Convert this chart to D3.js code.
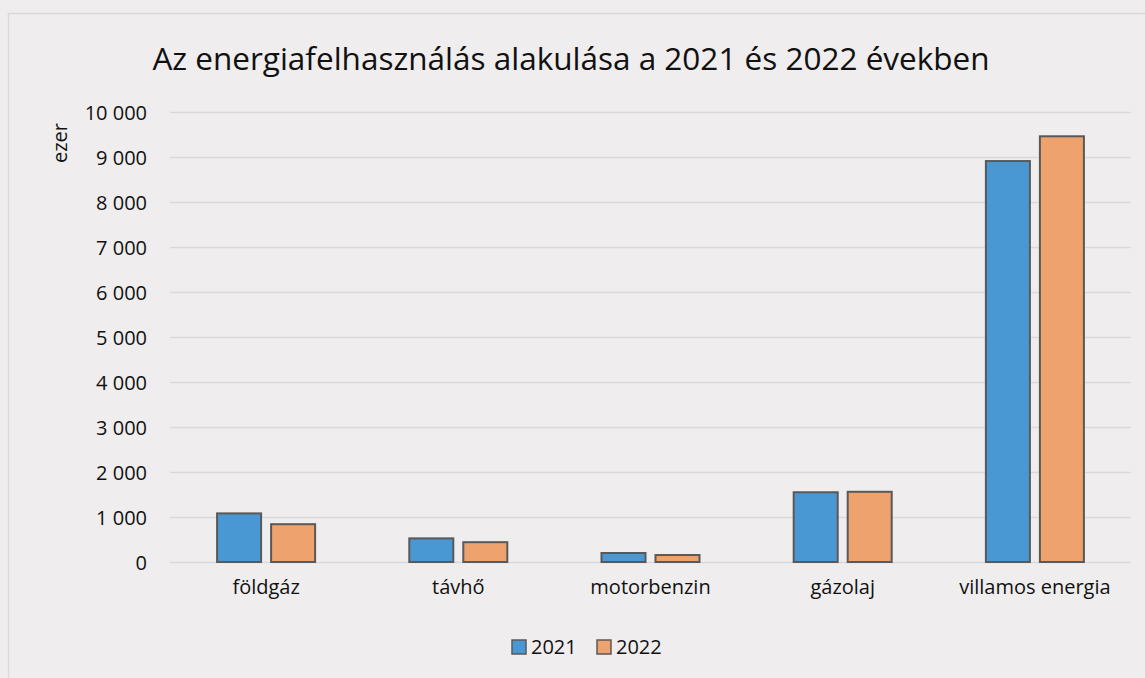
<!DOCTYPE html>
<html>
<head>
<meta charset="utf-8">
<script src="https://cdn.jsdelivr.net/npm/d3@7"></script>
<style>
  body { margin: 0; background: #efedee; }
  svg { display: block; font-family: "Open Sans", "Noto Sans", sans-serif; }
</style>
</head>
<body>
<div id="chart"></div>
<script>
// --- Data ---
const categories = ["földgáz", "távhő", "motorbenzin", "gázolaj", "villamos energia"];
const series = ["2021", "2022"];
const values2021 = [1080, 525, 200, 1550, 8910];
const values2022 = [840, 440, 155, 1560, 9460];
const yTicks = [0, 1000, 2000, 3000, 4000, 5000, 6000, 7000, 8000, 9000, 10000];
const seriesColors = ["#4a98d3", "#eea26e"];

// --- Layout ---
const width = 1145;
const height = 678;
const plot = { left: 170, right: 1131, top: 112, bottom: 562 };

const svg = d3.select("#chart").append("svg")
  .attr("width", width)
  .attr("height", height);

// chart frame
svg.append("rect")
  .attr("x", 8.5)
  .attr("y", 13.5)
  .attr("width", width + 20)
  .attr("height", height + 20)
  .attr("fill", "#efedee")
  .attr("stroke", "#d9d9d9")
  .attr("stroke-width", 1.5);

// --- Scales ---
const y = d3.scaleLinear()
  .domain([0, 10000])
  .range([plot.bottom, plot.top]);

const x0 = d3.scaleBand()
  .domain(categories)
  .range([plot.left, plot.right])
  .padding(0);

const groupWidth = x0.bandwidth() * 0.51;
const x1 = d3.scaleBand()
  .domain(series)
  .range([0, groupWidth])
  .paddingInner(0.185)
  .paddingOuter(0);

const color = d3.scaleOrdinal().domain(series).range(seriesColors);

const huLocale = d3.formatLocale({ decimal: ",", thousands: "\u00a0", grouping: [3], currency: ["", ""] });
const fmt = huLocale.format(",d");

// --- Gridlines + y axis labels ---
const yAxis = svg.append("g")
  .attr("transform", `translate(${plot.left},0)`)
  .call(d3.axisLeft(y).tickValues(yTicks).tickSize(-(plot.right - plot.left)).tickFormat(fmt).tickPadding(23))
  .attr("font-family", null);

yAxis.select(".domain").remove();
yAxis.selectAll(".tick line")
  .attr("stroke", "#d9d9d9")
  .attr("stroke-width", 1.5);
yAxis.selectAll(".tick text")
  .attr("fill", "#111")
  .attr("font-size", 20)
  .attr("dy", "0.35em");

// --- Bars ---
const rows = categories.map((c, i) => ({ category: c, vals: [values2021[i], values2022[i]] }));

const groups = svg.append("g")
  .selectAll("g")
  .data(rows)
  .join("g")
  .attr("transform", d => `translate(${x0(d.category) + (x0.bandwidth() - groupWidth) / 2},0)`);

groups.selectAll("rect")
  .data(d => series.map((s, i) => ({ key: s, value: d.vals[i] })))
  .join("rect")
  .attr("x", d => x1(d.key))
  .attr("y", d => y(d.value))
  .attr("width", x1.bandwidth())
  .attr("height", d => y(0) - y(d.value))
  .attr("fill", d => color(d.key))
  .attr("stroke", "#595959")
  .attr("stroke-width", 2);

// --- Category labels ---
const xAxis = svg.append("g")
  .attr("transform", `translate(0,${plot.bottom})`)
  .call(d3.axisBottom(x0).tickSize(0).tickPadding(18))
  .attr("font-family", null);
xAxis.select(".domain").remove();
xAxis.selectAll(".tick text")
  .attr("fill", "#111")
  .attr("font-size", 20);

// --- Titles ---
svg.append("text")
  .attr("x", 571)
  .attr("y", 70)
  .attr("text-anchor", "middle")
  .attr("font-size", 31.5)
  .attr("fill", "#111")
  .text("Az energiafelhasználás alakulása a 2021 és 2022 években");

svg.append("text")
  .attr("transform", "translate(67,143) rotate(-90)")
  .attr("text-anchor", "middle")
  .attr("font-size", 20)
  .attr("fill", "#111")
  .text("ezer");

// --- Legend ---
const legend = svg.append("g").attr("transform", "translate(512,640)");
const legendItems = legend.selectAll("g")
  .data(series)
  .join("g")
  .attr("transform", (d, i) => `translate(${i * 85},0)`);

legendItems.append("rect")
  .attr("width", 14)
  .attr("height", 14)
  .attr("fill", d => color(d))
  .attr("stroke", "#595959")
  .attr("stroke-width", 1.5);

legendItems.append("text")
  .attr("x", 19)
  .attr("y", 14)
  .attr("font-size", 20)
  .attr("fill", "#111")
  .text(d => d);
</script>
</body>
</html>
